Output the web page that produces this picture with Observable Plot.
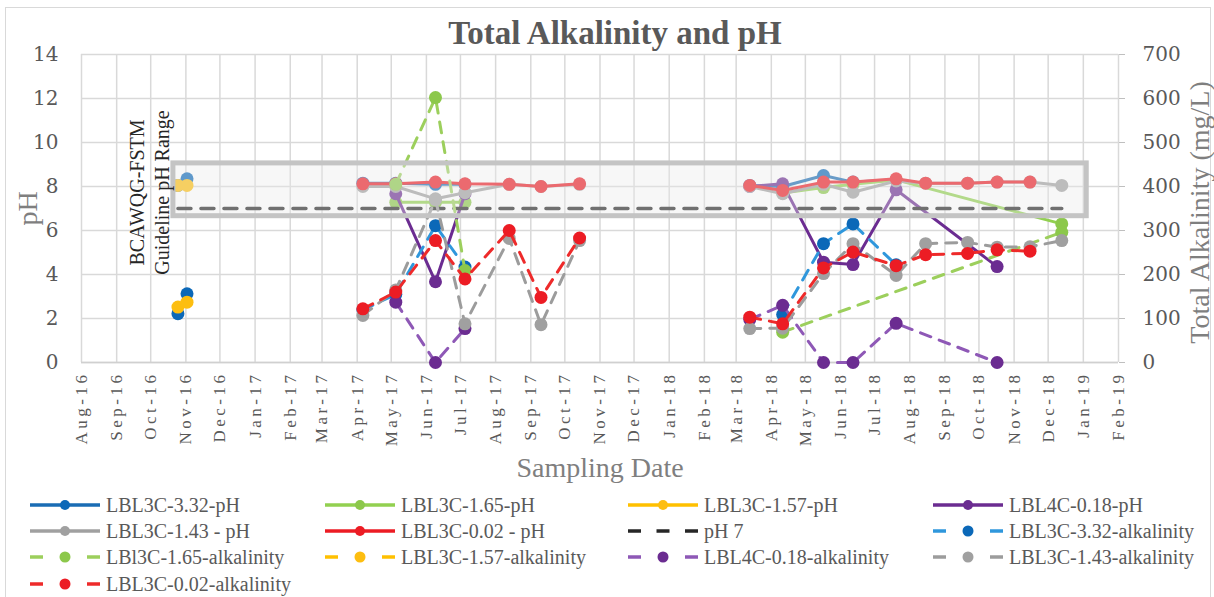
<!DOCTYPE html>
<html><head><meta charset="utf-8">
<script src="https://cdn.jsdelivr.net/npm/d3@7"></script>
<script src="https://cdn.jsdelivr.net/npm/@observablehq/plot@0.6"></script>
<style>
body{margin:0;background:#fff;}
#frame{position:relative;width:1214px;height:597px;overflow:hidden;background:#fff;}
#border{position:absolute;left:5px;top:7px;width:1206px;height:600px;border:1px solid #d9d9d9;box-sizing:border-box;}
#chart{position:absolute;left:0;top:0;}
.item{position:absolute;height:26px;display:flex;align-items:center;white-space:nowrap;font-family:"Liberation Serif",serif;font-size:20px;color:#595959;}
.item svg{margin-right:6px;flex:none}
</style>
</head><body>
<div id="frame"><div id="border"></div><div id="chart"></div><div id="legend"></div></div>
<script>
// ---- data ----
const sampleDates = ["2016-10-25","2016-11-02",
  "2017-04-06","2017-05-05","2017-06-09","2017-07-05","2017-08-13","2017-09-10","2017-10-14",
  "2018-03-13","2018-04-11","2018-05-17","2018-06-12","2018-07-20","2018-08-15","2018-09-21","2018-10-17","2018-11-15","2018-12-13"];
const sampleGroup = [0,0, 1,1,1,1,1,1,1, 2,2,2,2,2,2,2,2,2,2];

// pH
const ph_LBL3C_332 = [8.05,8.35, 8.15,8.15,8.1,8.1,null,null,null, 8.05,8.0,8.5,8.2,8.3,null,null,null,null,null];
const ph_LBL3C_165 = [null,null, null,7.28,7.28,7.28,null,null,null, null,7.7,7.95,8.1,8.3,null,null,null,null,6.3];
const ph_LBL3C_157 = [8.05,8.05, null,null,null,null,null,null,null, null,null,null,null,null,null,null,null,null,null];
const ph_LBL4C_018 = [null,null, null,7.67,3.67,7.67,null,null,null, 8.0,8.12,4.56,4.45,7.85,null,null,4.36,null,null];
const ph_LBL3C_143 = [null,null, 8.0,8.0,7.44,7.72,8.1,8.0,8.1, 8.0,7.67,8.1,7.74,8.25,8.15,8.15,8.2,8.2,8.05];
const ph_LBL3C_002 = [null,null, 8.12,8.12,8.2,8.12,8.1,8.0,8.12, 8.05,7.82,8.2,8.2,8.35,8.15,8.15,8.2,8.2,null];
const phNeutral = 7;

// Total alkalinity (mg/L)
const alk_LBL3C_332 = [111,156, 120,155,311,217,null,null,null, null,109,270,315,222,null,null,null,null,null];
const alk_LBL3C_165 = [null,null, null,405,602,209,null,null,null, null,69,null,null,null,null,null,null,null,296];
const alk_LBL3C_157 = [126,137, null,null,null,null,null,null,null, null,null,null,null,null,null,null,null,null,null];
const alk_LBL4C_018 = [null,null, null,137,0,77,null,null,null, 98,130,0,0,89,null,null,0,null,null];
const alk_LBL3C_143 = [null,null, 107,165,370,88,282,86,277, 77,78,202,270,198,270,273,262,263,277];
const alk_LBL3C_002 = [null,null, 122,160,277,190,300,148,283, 103,88,215,251,220,245,248,256,253,null];

const alkPerPh = 50;                       // 700 mg/L on right axis <-> pH 14 on left
const phTicks = [0,2,4,6,8,10,12,14];
const guidelineBox = {start:"2016-10-21", end:"2019-01-04", low:6.65, high:9.05};
const axisStart = "2016-08-01", axisEnd = "2019-02-01";

// ---- styles ----
const series = [
  {name:"LBL3C-3.32-pH", values:ph_LBL3C_332, kind:"ph", line:"#1a6cb4", dot:"#0b68b8"},
  {name:"LBL3C-1.65-pH", values:ph_LBL3C_165, kind:"ph", line:"#92d050", dot:"#8cc84b"},
  {name:"LBL3C-1.57-pH", values:ph_LBL3C_157, kind:"ph", line:"#ffc000", dot:"#fdbe10"},
  {name:"LBL4C-0.18-pH", values:ph_LBL4C_018, kind:"ph", line:"#6b2c91", dot:"#6b2c91"},
  {name:"LBL3C-1.43 - pH", values:ph_LBL3C_143, kind:"ph", line:"#a0a0a0", dot:"#a0a0a0"},
  {name:"LBL3C-0.02 - pH", values:ph_LBL3C_002, kind:"ph", line:"#ec1c24", dot:"#ec1c24"},
  {name:"pH 7", values:sampleDates.map(() => phNeutral), kind:"ref", line:"#262626", dot:null},
  {name:"LBL3C-3.32-alkalinity", values:alk_LBL3C_332, kind:"alk", line:"#2f97dc", dot:"#0b68b8"},
  {name:"LBl3C-1.65-alkalinity", values:alk_LBL3C_165, kind:"alk", line:"#9ccf5c", dot:"#8cc84b"},
  {name:"LBL3C-1.57-alkalinity", values:alk_LBL3C_157, kind:"alk", line:"#ffc000", dot:"#fdbe10"},
  {name:"LBL4C-0.18-alkalinity", values:alk_LBL4C_018, kind:"alk", line:"#8e58b6", dot:"#6b2c91"},
  {name:"LBL3C-1.43-alkalinity", values:alk_LBL3C_143, kind:"alk", line:"#9c9c9c", dot:"#a0a0a0"},
  {name:"LBL3C-0.02-alkalinity", values:alk_LBL3C_002, kind:"alk", line:"#ee2a2a", dot:"#ec1c24"}
];

const rows = [];
series.forEach(s => s.values.forEach((v, i) => {
  if (v == null) return;
  rows.push({series:s.name, date:new Date(sampleDates[i]), group: s.kind==="ref" ? 0 : sampleGroup[i],
             y: s.kind === "alk" ? v / alkPerPh : v});
}));

const monthTicks = d3.utcMonth.range(new Date(axisStart), d3.utcMonth.offset(new Date(axisEnd), 1));
const fmt = d3.utcFormat("%b-%y");
const serif = "Liberation Serif";

const marks = [
  Plot.gridX(monthTicks, {stroke:"#d9d9d9", strokeOpacity:1, strokeWidth:1.5}),
  Plot.gridY(phTicks, {stroke:"#d9d9d9", strokeOpacity:1, strokeWidth:1.5}),
  Plot.ruleY([0], {stroke:"#d0d0d0", strokeWidth:1.5}),
  Plot.axisX(monthTicks, {tickFormat:fmt, tickRotate:-90, tickSize:0, tickPadding:9, fontSize:17, fill:"#595959", label:null, fontFamily:serif}),
  Plot.axisY(phTicks, {anchor:"left", tickSize:0, tickPadding:23, fontSize:20, fill:"#595959", label:null, fontFamily:"DejaVu Serif"}),
  Plot.axisY(phTicks, {anchor:"right", tickSize:6, stroke:"#bfbfbf", tickPadding:18, fontSize:20, fill:"#595959", label:null, fontFamily:"DejaVu Serif", tickFormat:d => d * alkPerPh}),
];
series.forEach(s => {
  const d = rows.filter(r => r.series === s.name);
  if (s.kind === "ref") {
    marks.push(Plot.line(d, {x:"date", y:"y", stroke:s.line, strokeWidth:3.5, strokeDasharray:"13,10"}));
    return;
  }
  marks.push(Plot.line(d, {x:"date", y:"y", z:"group", stroke:s.line, strokeWidth:3, strokeDasharray: s.kind==="alk" ? "11,9" : null}));
  marks.push(Plot.dot(d, {x:"date", y:"y", r:6.5, fill:s.dot, stroke:"none"}));
});
marks.push(Plot.rect([guidelineBox], {x1:d => new Date(d.start), x2:d => new Date(d.end), y1:"low", y2:"high",
  fill:"#ebebeb", fillOpacity:0.38, stroke:"#c4c4c4", strokeWidth:5}));
const center = {textAnchor:"middle", lineAnchor:"middle", fontFamily:serif};
marks.push(Plot.text(["BCAWQG-FSTM\nGuideline pH Range"], {...center, frameAnchor:"left", dx:67, dy:-16, rotate:-90, fontSize:20, lineHeight:1.28, fill:"#262626"}));
marks.push(Plot.text(["Total Alkalinity and pH"], {...center, frameAnchor:"top", dx:15, dy:-21, fontSize:33, fontWeight:"bold", fill:"#595959"}));
marks.push(Plot.text(["pH"], {...center, frameAnchor:"left", dx:-53, rotate:-90, fontSize:28, fill:"#7f7f7f"}));
marks.push(Plot.text(["Total Alkalinity (mg/L)"], {...center, frameAnchor:"right", dx:82, dy:4, rotate:-90, fontSize:28, fill:"#7f7f7f"}));
marks.push(Plot.text(["Sampling Date"], {...center, frameAnchor:"bottom", dy:106, fontSize:28, fill:"#7f7f7f"}));

const chart = Plot.plot({
  width:1214, height:490,
  marginTop:54, marginBottom:128, marginLeft:81, marginRight:96,
  x:{type:"utc", domain:[new Date(axisStart), new Date(axisEnd)]},
  y:{domain:[0,14]},
  style:{fontFamily:serif, background:"transparent", overflow:"visible", color:"#595959"},
  marks
});
chart.querySelectorAll('g[aria-label="x-axis tick label"] text').forEach(t => t.style.letterSpacing = "3.5px");
document.getElementById("chart").appendChild(chart);

// ---- legend ----
const colX = [30, 325, 628, 933];
const rowY = [492, 518, 544, 571];
const legend = document.getElementById("legend");
series.forEach((s, i) => {
  const item = document.createElement("div");
  item.className = "item";
  item.style.left = colX[i % 4] + "px";
  item.style.top = rowY[Math.floor(i / 4)] + "px";
  const ns = "http://www.w3.org/2000/svg";
  const sw = document.createElementNS(ns, "svg");
  sw.setAttribute("width", 70); sw.setAttribute("height", 14);
  const mk = (tag, attrs) => { const e = document.createElementNS(ns, tag); for (const k in attrs) e.setAttribute(k, attrs[k]); sw.appendChild(e); };
  if (s.kind === "ph") {
    mk("line", {x1:0, x2:70, y1:7, y2:7, stroke:s.line, "stroke-width":3.5});
    mk("circle", {cx:35, cy:7, r:5, fill:s.dot});
  } else if (s.kind === "alk") {
    mk("line", {x1:0, x2:13, y1:7, y2:7, stroke:s.line, "stroke-width":3.5});
    mk("line", {x1:57, x2:70, y1:7, y2:7, stroke:s.line, "stroke-width":3.5});
    mk("circle", {cx:35, cy:7, r:5.5, fill:s.dot});
  } else {
    mk("line", {x1:0, x2:70, y1:7, y2:7, stroke:s.line, "stroke-width":3.5, "stroke-dasharray":"13,15.5"});
  }
  item.appendChild(sw);
  item.appendChild(document.createTextNode(s.name));
  legend.appendChild(item);
});
</script>
</body></html>
